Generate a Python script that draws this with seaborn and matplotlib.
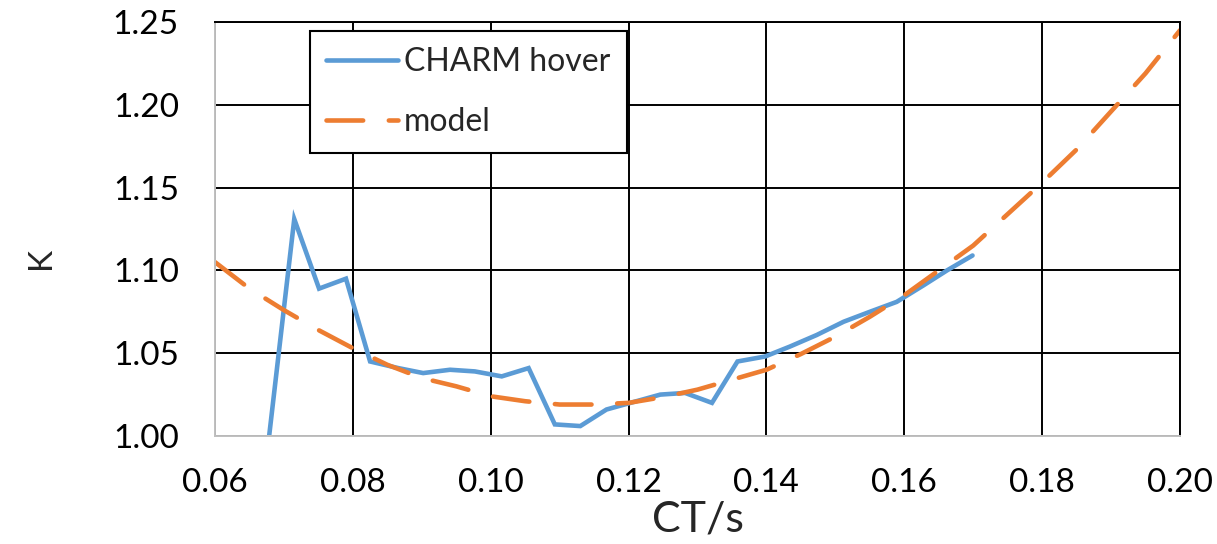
import matplotlib
matplotlib.use("Agg")
import matplotlib.pyplot as plt
import seaborn as sns
import pandas as pd

# ---- data ----
charm_ct = [0.0678, 0.0715, 0.0751, 0.0790, 0.0825, 0.0866, 0.0902, 0.0941, 0.0977,
            0.1016, 0.1055, 0.1093, 0.1130, 0.1168, 0.1246, 0.1282, 0.1321, 0.1358,
            0.1398, 0.1434, 0.1473, 0.1512, 0.1550, 0.1589, 0.1628, 0.1662, 0.1699]
charm_k = [0.998, 1.131, 1.089, 1.095, 1.045, 1.041, 1.038, 1.040, 1.039,
           1.036, 1.041, 1.007, 1.006, 1.016, 1.025, 1.026, 1.020, 1.045,
           1.048, 1.054, 1.061, 1.069, 1.075, 1.081, 1.091, 1.100, 1.109]

model_ct = [0.060, 0.065, 0.070, 0.075, 0.080, 0.085, 0.090, 0.095, 0.100, 0.105,
            0.110, 0.115, 0.120, 0.125, 0.130, 0.135, 0.140, 0.145, 0.150, 0.155,
            0.160, 0.165, 0.170, 0.175, 0.180, 0.185, 0.190, 0.195, 0.200]
model_k = [1.105, 1.089, 1.076, 1.064, 1.053, 1.043, 1.035, 1.030, 1.024, 1.021,
           1.019, 1.019, 1.020, 1.0235, 1.028, 1.034, 1.040, 1.0495, 1.060, 1.072,
           1.085, 1.100, 1.115, 1.134, 1.153, 1.173, 1.196, 1.219, 1.245]

x_ticks = [0.06, 0.08, 0.10, 0.12, 0.14, 0.16, 0.18, 0.20]
y_ticks = [1.00, 1.05, 1.10, 1.15, 1.20, 1.25]
series_names = ["CHARM hover", "model"]

sns.set_theme(style="white")
plt.rcParams['font.family'] = ['Lato', 'DejaVu Sans']

BLUE = "#5B9BD5"
ORANGE = "#ED7D31"

fig = plt.figure(figsize=(12.17, 5.44), dpi=100)
ax = fig.add_axes([215/1217, 1-436/544, 965/1217, 414/544])

df_c = pd.DataFrame({"ct": charm_ct, "k": charm_k})
df_m = pd.DataFrame({"ct": model_ct, "k": model_k})

sns.lineplot(data=df_c, x="ct", y="k", ax=ax, color=BLUE, linewidth=3.3,
             sort=False, errorbar=None, label=series_names[0],
             solid_capstyle="round", solid_joinstyle="miter")
sns.lineplot(data=df_m, x="ct", y="k", ax=ax, color=ORANGE, linewidth=3.3,
             sort=False, errorbar=None, label=series_names[1],
             linestyle=(0, (8.0, 5.6)))
for ln in ax.get_lines():
    ln.set_dash_capstyle("round")

ax.set_xlim(0.06, 0.20)
ax.set_ylim(1.00, 1.25)
ax.set_xticks(x_ticks)
ax.set_yticks(y_ticks)
ax.set_xticklabels([f"{v:.2f}" for v in x_ticks])
ax.set_yticklabels([f"{v:.2f}" for v in y_ticks])
ax.tick_params(axis="both", length=0, labelsize=24, colors="black")
ax.tick_params(axis="y", pad=26)
ax.tick_params(axis="x", pad=23)

ax.grid(True, color="black", linewidth=1.4)
ax.set_axisbelow(True)
for s in ["top", "right"]:
    ax.spines[s].set_color("black")
    ax.spines[s].set_linewidth(1.4)
for s in ["left", "bottom"]:
    ax.spines[s].set_color("#BFBFBF")
    ax.spines[s].set_linewidth(1.4)

ax.set_xlabel("CT/s", fontsize=31, labelpad=2)
ax.set_ylabel("K", fontsize=24, labelpad=42)
ax.yaxis.set_label_coords(-0.165, 0.43)

leg = ax.legend(loc="upper left", bbox_to_anchor=((310-215)/965, (436-31)/414),
                fontsize=23, frameon=True, fancybox=False, framealpha=1,
                edgecolor="black", handlelength=2.25, handletextpad=0.2,
                labelspacing=0.95, borderpad=0.5, borderaxespad=0)
leg.get_frame().set_linewidth(1.5)
for h in leg.get_lines():
    h.set_linewidth(3.3)
    h.set_dash_capstyle("round")
    h.set_solid_capstyle("round")

fig.savefig("out.png", dpi=100)
